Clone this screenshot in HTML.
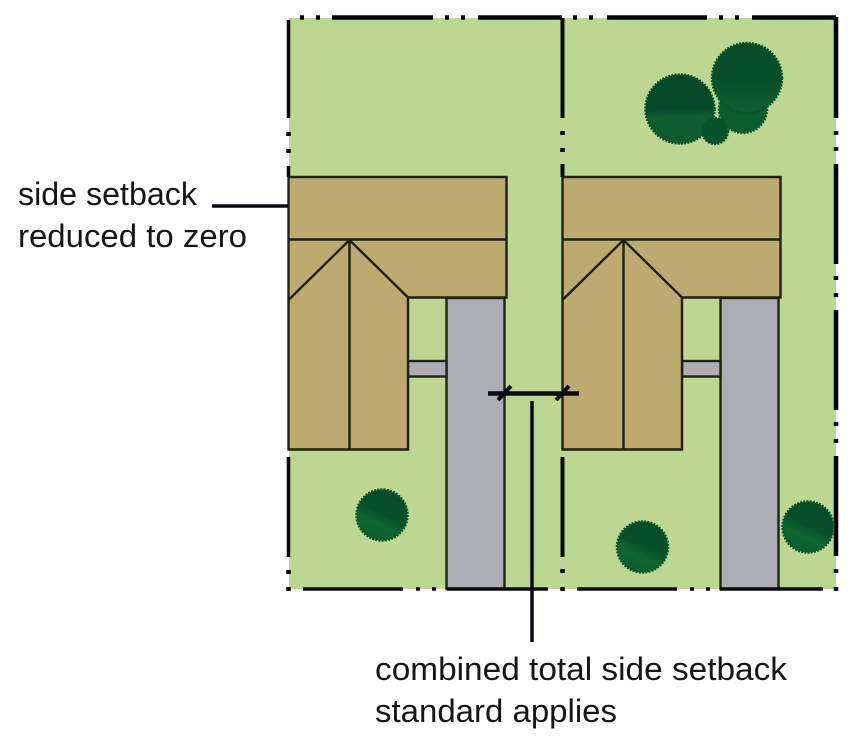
<!DOCTYPE html>
<html>
<head>
<meta charset="utf-8">
<style>
html,body{margin:0;padding:0;background:#fff;width:861px;height:742px;overflow:hidden}
svg{display:block;filter:blur(0.35px)}
text{font-family:"Liberation Sans",sans-serif;font-size:32px;fill:#161616}
</style>
</head>
<body>
<svg width="861" height="742" viewBox="0 0 861 742" xmlns="http://www.w3.org/2000/svg">
<defs>
<linearGradient id="g1" x1="0.45" y1="0" x2="0.5" y2="1">
<stop offset="0" stop-color="#04482a"/><stop offset="0.5" stop-color="#04482a"/><stop offset="0.62" stop-color="#0f5f2f"/><stop offset="1" stop-color="#0d5a2e"/>
</linearGradient>
<linearGradient id="g2" x1="0.7" y1="0.05" x2="0.3" y2="0.95">
<stop offset="0" stop-color="#054c2a"/><stop offset="0.48" stop-color="#065029"/><stop offset="0.68" stop-color="#0e6631"/><stop offset="1" stop-color="#0b5f2f"/>
</linearGradient>
<linearGradient id="g3" x1="0.5" y1="0" x2="0.5" y2="1">
<stop offset="0" stop-color="#054c2a"/><stop offset="0.55" stop-color="#06502a"/><stop offset="1" stop-color="#0f6230"/>
</linearGradient>
</defs>

<!-- lots -->
<rect x="289" y="18" width="547" height="571" fill="#bdd793"/>

<!-- driveways and walks -->
<g fill="#adadb6" stroke="#1c2414" stroke-width="2.400">
<rect x="446.500" y="298" width="58" height="291"/>
<rect x="720.500" y="298" width="58" height="291"/>
<rect x="408" y="361" width="38.500" height="15.500"/>
<rect x="682" y="361" width="38.500" height="15.500"/>
</g>

<!-- houses -->
<g id="houses" fill="#bcaa70" stroke="#1f2010" stroke-width="2.400" stroke-linejoin="miter">
<path d="M288.500 177H506.500V297.500H408V449.500H288.500Z"/>
<path d="M288.500 239.500H506.500M288.500 300L349.500 240L408 297.500M349.500 240V449.500" fill="none"/>
<path d="M562.500 177H780.500V297.500H682V449.500H562.500Z"/>
<path d="M562.500 239.500H780.500M562.500 300L623.500 240L682 297.500M623.500 240V449.500" fill="none"/>
</g>

<!-- property lines -->
<g stroke="#050805" fill="none">
<path stroke-width="3.500" d="M288.500 20V118M288.500 166V177M288.500 457V557"/>
<path stroke-width="4" d="M562.500 18V118M562.500 164V177M562.500 457V557"/>
<path stroke-width="4.500" stroke="#000" d="M836 17V118M836 164V264M836 310V410M836 456V556"/>
<path stroke-width="4.500" stroke="#000" d="M332 17.500H433M478 17.500H562M607 17.500H707M752 17.500H836"/>
<path stroke-width="3.500" stroke="#0a0a0a" d="M303 589H403M447 589H548M577 589H677M720 589H823"/>
<path stroke-width="4.500" d="M300 17.500h4M316 17.500h4M445 17.500h4M461 17.500h4M573 17.500h4M589 17.500h4M719 17.500h4M735 17.500h4"/>
<path stroke-width="4.500" d="M288.500 132v4M288.500 149v4M562.500 131v4M562.500 148v4M836 131v4M836 147v4M836 276v4M836 293v4M836 422v4M836 439v4M836 569v4M836 587v4M288.500 570v4M288.500 587v4M562.500 569v4M562.500 587v4"/>
<path stroke-width="3.500" d="M416 589h4M432 589h4M690 589h4M706 589h4"/>
</g>

<!-- trees -->
<g stroke-dasharray="2 1.200">
<circle cx="743" cy="109" r="24" fill="#0b5c2e" stroke="#0b5c2e" stroke-width="2.500"/>
<circle cx="747" cy="78" r="35" fill="url(#g3)" stroke="#07522a" stroke-width="2.500"/>
<circle cx="680" cy="109" r="34.500" fill="url(#g1)" stroke="#08532a" stroke-width="2.500"/>
<circle cx="715" cy="131" r="13" fill="#08522a" stroke="#08522a" stroke-width="2.500"/>
<circle cx="382" cy="515" r="25.500" fill="url(#g2)" stroke="#08562b" stroke-width="2.500"/>
<circle cx="642.500" cy="547" r="25.500" fill="url(#g2)" stroke="#08562b" stroke-width="2.500"/>
<circle cx="808" cy="527" r="25.500" fill="url(#g2)" stroke="#08562b" stroke-width="2.500"/>
</g>

<!-- callouts -->
<g stroke="#0a0a14" fill="none">
<path stroke-width="3.500" d="M212 206H288"/>
<path stroke-width="4.500" d="M488 393.500H579"/>
<path stroke-width="4" d="M498 400L511 386M556 400L569 386"/>
<path stroke-width="3.500" d="M532 401V642"/>
</g>

<!-- labels -->
<text x="18" y="205" textLength="179" lengthAdjust="spacingAndGlyphs">side setback</text>
<text x="18" y="247" textLength="229" lengthAdjust="spacingAndGlyphs">reduced to zero</text>
<text x="375" y="680" textLength="412" lengthAdjust="spacingAndGlyphs">combined total side setback</text>
<text x="375" y="722" textLength="242" lengthAdjust="spacingAndGlyphs">standard applies</text>
</svg>
</body>
</html>
